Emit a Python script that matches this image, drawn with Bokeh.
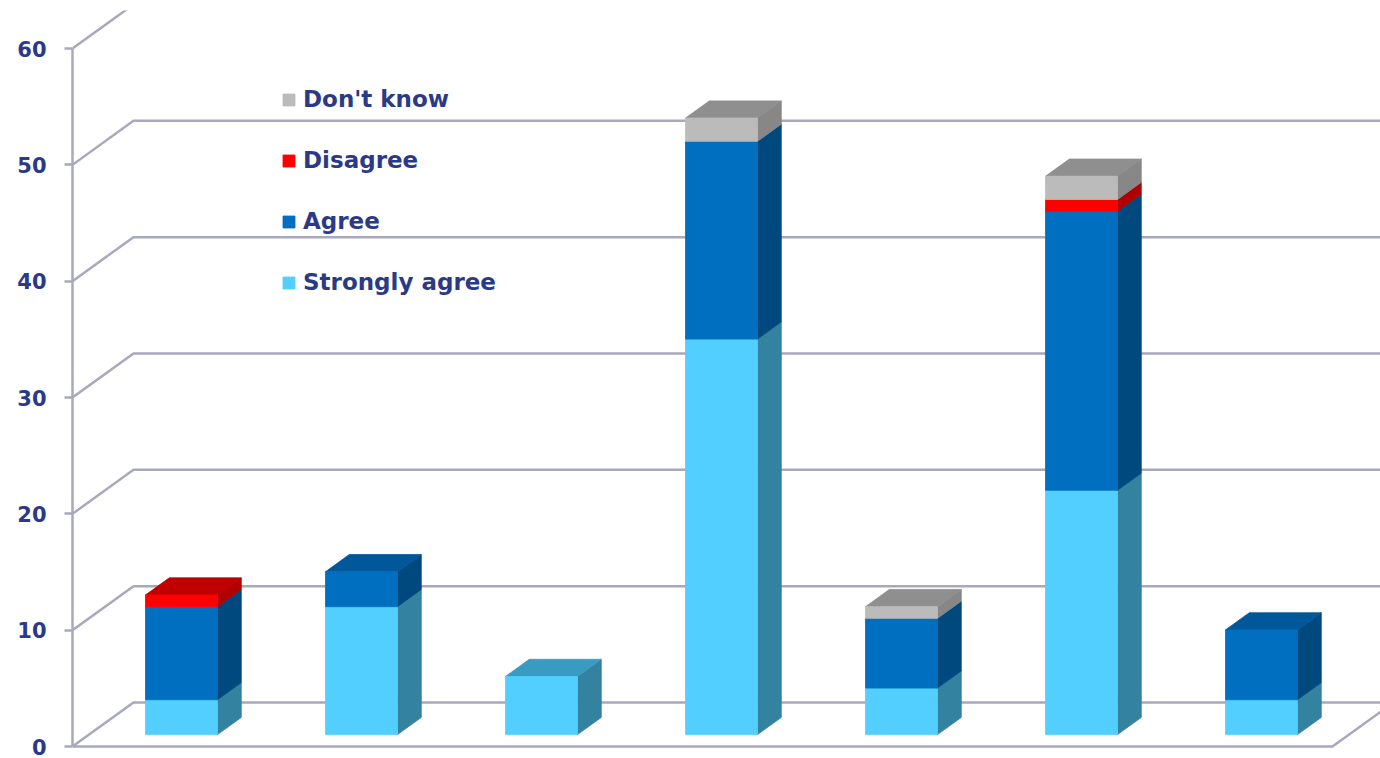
from bokeh.plotting import figure
from bokeh.models import Legend, LegendItem, FixedTicker, Range1d, ColumnDataSource
from bokeh.embed import file_html
from bokeh.resources import INLINE

# ---------------- data ----------------
categories = ["Q1", "Q2", "Q3", "Q4", "Q5", "Q6", "Q7"]
strongly_agree = [3, 11, 5, 34, 4, 21, 3]
agree = [8, 3, 0, 17, 6, 24, 6]
disagree = [1, 0, 0, 0, 0, 1, 0]
dont_know = [0, 0, 0, 2, 1, 2, 0]
series_names = ["Strongly agree", "Agree", "Disagree", "Don't know"]
y_ticks = [0, 10, 20, 30, 40, 50, 60]

# ---------------- style / layout ----------------
front_colors = ["#52CFFE", "#006FBF", "#FF0000", "#BBBBBB"]
side_colors = ["#3383A0", "#00497F", "#B00000", "#878787"]
top_colors = ["#3A9BC2", "#00579A", "#C00000", "#8F8F8F"]
TEXT = "#2B3A86"
GRID = "#A8A8BE"

W, H = 1380, 758
LEFT = 72
TOP = 10
PX_PER_CAT = 180.0
Y0 = 746                       # plot y of front zero
S = (Y0 - 48) / 60.0           # px per value unit
DXU = 61.0 / PX_PER_CAT        # depth offset in x units
DYU = 44.0 / S                 # depth offset in value units
BAR_D0, BAR_D1 = 0.27, 0.66
BAR_X0, BAR_W = 0.314, 0.40
N = len(categories)

x_end = (W - LEFT) / PX_PER_CAT
y_start = -(H - Y0) / S
y_end = (Y0 - TOP) / S

p = figure(width=W, height=H, output_backend="svg", toolbar_location=None,
           x_range=Range1d(0, x_end), y_range=Range1d(y_start, y_end),
           min_border_left=LEFT, min_border_right=0, min_border_top=TOP, min_border_bottom=0)
p.outline_line_color = None
p.xgrid.visible = False
p.ygrid.visible = False
p.xaxis.visible = False
p.background_fill_color = "white"
p.border_fill_color = "white"

yax = p.yaxis[0]
yax.ticker = FixedTicker(ticks=y_ticks)
yax.bounds = (min(y_ticks), max(y_ticks))
yax.axis_line_color = GRID
yax.axis_line_width = 2.5
yax.major_tick_line_color = GRID
yax.major_tick_line_width = 2.5
yax.major_tick_out = 8
yax.major_tick_in = 0
yax.minor_tick_line_color = None
yax.major_label_standoff = 18
yax.major_label_text_font = "DejaVu Sans"
yax.major_label_text_font_style = "bold"
yax.major_label_text_font_size = "21px"
yax.major_label_text_color = TEXT

# ---------------- 3D walls / gridlines ----------------
far = x_end + 1
gxs, gys = [], []
for t in y_ticks:
    gxs.append([0, DXU, far])
    gys.append([t, t + DYU, t + DYU])
# floor front and right edge
gxs.append([0, N, N + DXU])
gys.append([0, 0, DYU])
p.multi_line(gxs, gys, line_color=GRID, line_width=2.5)

# ---------------- bars ----------------
series = [strongly_agree, agree, disagree, dont_know]
totals = [sum(s[i] for s in series) for i in range(N)]
front_renderers = []
for k, vals in enumerate(series):
    fl, fr, fb, ft = [], [], [], []
    sxs, sys_ = [], []
    txs, tys = [], []
    for i in range(N):
        base = sum(series[j][i] for j in range(k))
        v = vals[i]
        if v <= 0:
            continue
        top = base + v
        xl0 = i + BAR_X0 + BAR_D0 * DXU
        xr0 = xl0 + BAR_W
        xl1 = i + BAR_X0 + BAR_D1 * DXU
        xr1 = xl1 + BAR_W
        b0, t0 = base + BAR_D0 * DYU, top + BAR_D0 * DYU
        b1, t1 = base + BAR_D1 * DYU, top + BAR_D1 * DYU
        fl.append(xl0); fr.append(xr0); fb.append(b0); ft.append(t0)
        sxs.append([xr0, xr0, xr1, xr1]); sys_.append([b0, t0, t1, b1])
        if top == totals[i]:
            txs.append([xl0, xr0, xr1, xl1]); tys.append([t0, t0, t1, t1])
    p.patches(sxs, sys_, fill_color=side_colors[k], line_color=side_colors[k], line_width=0.8)
    if txs:
        p.patches(txs, tys, fill_color=top_colors[k], line_color=top_colors[k], line_width=0.8)
    src = ColumnDataSource(dict(left=fl, right=fr, bottom=fb, top=ft))
    r = p.quad(left="left", right="right", bottom="bottom", top="top", source=src,
               fill_color=front_colors[k], line_color=front_colors[k], line_width=0.8)
    front_renderers.append(r)

# ---------------- legend ----------------
items = [LegendItem(label=series_names[k], renderers=[front_renderers[k]]) for k in [3, 2, 1, 0]]
legend = Legend(items=items, location=(209, 462), orientation="vertical",
                padding=0, margin=0, spacing=33, glyph_width=15, glyph_height=15,
                label_height=28, label_standoff=7,
                border_line_color=None, background_fill_alpha=0,
                label_text_font="DejaVu Sans", label_text_font_style="bold",
                label_text_font_size="23px", label_text_color=TEXT)
p.add_layout(legend)

open("out.html", "w").write(file_html(p, INLINE))
